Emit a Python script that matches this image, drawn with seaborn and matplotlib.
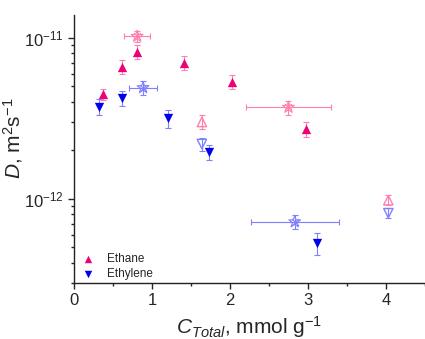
import numpy as np
import pandas as pd
import matplotlib
matplotlib.use('Agg')
import matplotlib.pyplot as plt
import seaborn as sns

# Ethane, filled triangles
ethane_x = [0.37, 0.62, 0.81, 1.41, 2.02, 2.975]
ethane_D = [4.48e-12, 6.6e-12, 8.2e-12, 7.0e-12, 5.34e-12, 2.72e-12]
ethane_err = [0.35e-12, 0.65e-12, 0.8e-12, 0.7e-12, 0.5e-12, 0.3e-12]
# Ethane, open triangles
ethane_open_x = [1.64, 4.03]
ethane_open_D = [3.0e-12, 9.8e-13]
ethane_open_err = [0.3e-12, 0.07e-12]
# Ethane, averaged points with x error
ethane_avg_x = [0.81, 2.75]
ethane_avg_xerr = [0.165, 0.55]
ethane_avg_D = [1.02e-11, 3.70e-12]
ethane_avg_err = [0.85e-12, 0.37e-12]

# Ethylene, filled triangles
ethylene_x = [0.32, 0.61, 1.20, 1.73, 3.12]
ethylene_D = [3.73e-12, 4.21e-12, 3.16e-12, 1.96e-12, 5.3e-13]
ethylene_err = [0.42e-12, 0.43e-12, 0.4e-12, 0.21e-12, 0.08e-12]
# Ethylene, open triangles
ethylene_open_x = [1.64, 4.03]
ethylene_open_D = [2.19e-12, 8.15e-13]
ethylene_open_err = [0.21e-12, 0.057e-12]
# Ethylene, averaged points with x error
ethylene_avg_x = [0.886, 2.83]
ethylene_avg_xerr = [0.185, 0.565]
ethylene_avg_D = [4.9e-12, 7.2e-13]
ethylene_avg_err = [0.5e-12, 0.07e-12]

pink = '#ee0077'
pink_light = '#ff7fae'
blue = '#0000ee'
blue_light = '#7f7fff'

sns.set_style('ticks')
plt.rcParams['font.family'] = ['Liberation Sans', 'DejaVu Sans']
plt.rcParams['mathtext.fontset'] = 'custom'
plt.rcParams['mathtext.rm'] = 'Liberation Sans'
plt.rcParams['mathtext.it'] = 'Liberation Sans:italic'
plt.rcParams['axes.unicode_minus'] = False

fig = plt.figure(figsize=(4.25, 3.39), dpi=100)
ax = fig.add_axes([0.174, 0.165, 0.826, 0.79])

eb = dict(fmt='none', capsize=2.5, elinewidth=0.8, capthick=0.8, zorder=1)

# error bars
ax.errorbar(ethane_x, ethane_D, yerr=ethane_err, ecolor=pink_light, **eb)
ax.errorbar(ethane_open_x, ethane_open_D, yerr=ethane_open_err, ecolor=pink_light, **eb)
ax.errorbar(ethane_avg_x, ethane_avg_D, xerr=ethane_avg_xerr, yerr=ethane_avg_err, ecolor=pink_light, **eb)
ax.errorbar(ethylene_x, ethylene_D, yerr=ethylene_err, ecolor=blue_light, **eb)
ax.errorbar(ethylene_open_x, ethylene_open_D, yerr=ethylene_open_err, ecolor=blue_light, **eb)
ax.errorbar(ethylene_avg_x, ethylene_avg_D, xerr=ethylene_avg_xerr, yerr=ethylene_avg_err, ecolor=blue_light, **eb)

# filled markers
sns.scatterplot(x=ethane_x, y=ethane_D, marker='^', color=pink, s=45, linewidth=0, ax=ax, zorder=3, label='Ethane')
sns.scatterplot(x=ethylene_x, y=ethylene_D, marker='v', color=blue, s=45, linewidth=0, ax=ax, zorder=3, label='Ethylene')

# open markers
sns.scatterplot(x=ethane_open_x, y=ethane_open_D, marker='^', facecolor='none', edgecolor=pink_light, s=45, linewidth=1, ax=ax, zorder=3)
sns.scatterplot(x=ethylene_open_x, y=ethylene_open_D, marker='v', facecolor='none', edgecolor=blue_light, s=45, linewidth=1, ax=ax, zorder=3)

# averaged markers: open star with cross
for xs, ys, c in [(ethane_avg_x, ethane_avg_D, pink_light), (ethylene_avg_x, ethylene_avg_D, blue_light)]:
    sns.scatterplot(x=xs, y=ys, marker='*', facecolor='none', edgecolor=c, s=80, linewidth=0.8, ax=ax, zorder=3)
    sns.scatterplot(x=xs, y=ys, marker='x', color=c, s=25, linewidth=0.8, ax=ax, zorder=3)

ax.set_yscale('log')
ax.set_xlim(0, 4.49)
ax.set_ylim(3.0e-13, 1.38e-11)
ax.set_xticks([0, 1, 2, 3, 4])
ax.set_xticks([0.5, 1.5, 2.5, 3.5, 4.5], minor=True)
ax.set_yticks([1e-12, 1e-11])
ax.set_yticklabels([r'10$^{-12}$', r'10$^{-11}$'])
ax.tick_params(axis='both', which='major', labelsize=12, length=4, width=1, direction='out')
ax.tick_params(axis='both', which='minor', length=2.5, width=1, direction='out')
ax.tick_params(axis='y', which='minor', labelleft=False)

sns.despine(ax=ax)
for s in ['left', 'bottom']:
    ax.spines[s].set_linewidth(1)
    ax.spines[s].set_color('#222222')

ax.set_xlabel(r'$C_{Total}$, mmol g$^{-1}$', fontsize=15, labelpad=4)
ax.set_ylabel(r'$D$, m$^2$s$^{-1}$', fontsize=15)
ax.yaxis.set_label_coords(-0.14, 0.54)

leg = ax.legend(loc='lower left', bbox_to_anchor=(-0.01, -0.01), frameon=False, fontsize=8.5,
                handletextpad=0.6, borderaxespad=0.1, labelspacing=0.2, markerscale=0.8)

fig.savefig('out.png', dpi=100)
